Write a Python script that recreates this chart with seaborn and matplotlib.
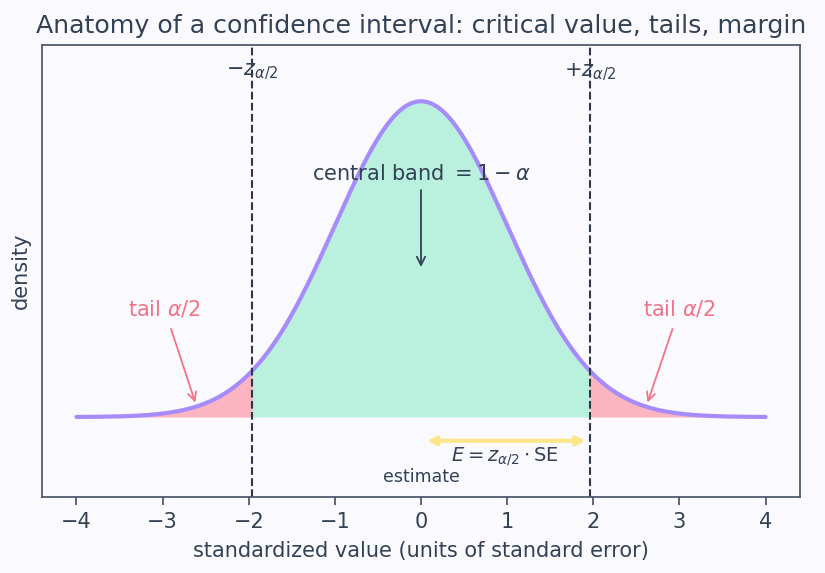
import numpy as np
import pandas as pd
import matplotlib.pyplot as plt
import seaborn as sns

# critical value for a 95% interval
z_crit = 1.96
x_lo, x_hi = -4.0, 4.0
x_ticks = [-4, -3, -2, -1, 0, 1, 2, 3, 4]

INK = '#334155'
CURVE = '#a78bfa'
CENTER = '#6ee7b7'
TAIL = '#fb7185'
MARGIN = '#fde68a'
BG = '#fafafe'

sns.set_theme(style='white', rc={
    'figure.facecolor': BG, 'axes.facecolor': BG,
    'axes.edgecolor': '#4a5568', 'text.color': INK,
    'axes.labelcolor': INK, 'xtick.color': INK,
})
plt.rcParams['font.family'] = ['DejaVu Sans']

x = np.linspace(x_lo, x_hi, 801)
dens = np.exp(-x ** 2 / 2) / np.sqrt(2 * np.pi)
df = pd.DataFrame({'x': x, 'density': dens})

fig, ax = plt.subplots(figsize=(8.25, 5.73), dpi=100)
fig.subplots_adjust(left=42 / 825, right=800 / 825, top=1 - 45 / 573, bottom=1 - 497 / 573)

# shaded regions
mid = np.abs(x) <= z_crit
ax.fill_between(x, 0, dens, where=mid, color=CENTER, alpha=0.45, lw=0)
ax.fill_between(x, 0, dens, where=x <= -z_crit, color=TAIL, alpha=0.5, lw=0)
ax.fill_between(x, 0, dens, where=x >= z_crit, color=TAIL, alpha=0.5, lw=0)

sns.lineplot(data=df, x='x', y='density', color=CURVE, lw=3, ax=ax)

for z in (-z_crit, z_crit):
    ax.axvline(z, color='#2d3748', ls='--', lw=1.5)
ax.text(-z_crit, 0.436, r'$-z_{\alpha/2}$', ha='center', va='center', fontsize=15, color=INK)
ax.text(z_crit, 0.436, r'$+z_{\alpha/2}$', ha='center', va='center', fontsize=15, color=INK)

ax.annotate(r'central band $= 1-\alpha$', xy=(0, 0.186), xytext=(0, 0.307),
            ha='center', va='center', fontsize=15, color=INK,
            arrowprops=dict(arrowstyle='->', color=INK, lw=1.3))

for xt, xa in ((-2.98, -2.61), (3.0, 2.62)):
    ax.annotate(r'tail $\alpha/2$', xy=(xa, 0.015), xytext=(xt, 0.137),
                ha='center', va='center', fontsize=15, color='#f07388',
                arrowprops=dict(arrowstyle='->', color='#f07388', lw=1.3,
                                shrinkA=5))

ax.annotate('', xy=(0.07, -0.03), xytext=(1.91, -0.03),
            arrowprops=dict(arrowstyle='<|-|>', color=MARGIN, lw=3,
                            mutation_scale=12, shrinkA=0, shrinkB=0))
ax.text(z_crit / 2, -0.05, r'$E = z_{\alpha/2} \cdot \mathrm{SE}$', ha='center', va='center',
        fontsize=14, color=INK)
ax.text(0, -0.076, 'estimate', ha='center', va='center', fontsize=12.5, color=INK)

ax.set_xlim(-4.4, 4.4)
ax.set_ylim(-0.101, 0.47)
ax.set_xticks(x_ticks)
ax.set_yticks([])
ax.tick_params(axis='x', labelsize=15, bottom=True, length=6, pad=5, color='#4a5568')
ax.set_xlabel('standardized value (units of standard error)', fontsize=15, labelpad=6)
ax.set_ylabel('density', fontsize=15, labelpad=8)
ax.set_title('Anatomy of a confidence interval: critical value, tails, margin',
             fontsize=18.2, color=INK, pad=9)

fig.savefig('out.png', dpi=100, facecolor=BG)
